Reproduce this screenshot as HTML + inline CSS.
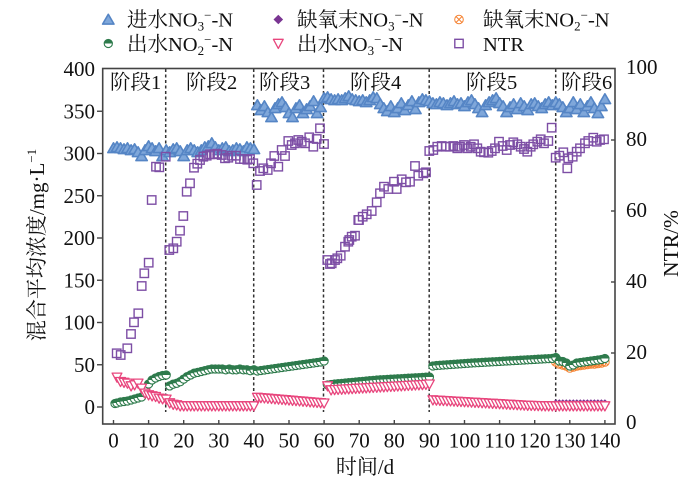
<!DOCTYPE html>
<html><head><meta charset="utf-8"><style>
html,body{margin:0;padding:0;background:#fff;}
svg{display:block;}
text{font-family:"Liberation Serif","Noto Serif CJK SC",serif;fill:#111;}
.s{fill:none;stroke:none;}
</style></head><body>
<svg width="700" height="481" viewBox="0 0 700 481" xmlns="http://www.w3.org/2000/svg">
<defs>
<g id="gT"><path d="M0,-5.2 L5.7,4.6 L-5.7,4.6 Z" fill="#7fa7da" stroke="#5585c5" stroke-width="1.6" stroke-linejoin="round"/></g>
<g id="gG"><circle r="4.1" fill="#fff" stroke="#2e7b4c" stroke-width="1.1"/><path d="M-4.1,0 A4.1,4.1 0 0 1 4.1,0 Z" fill="#2e7b4c"/></g>
<g id="gP"><path d="M-4.9,-4.2 L4.9,-4.2 L0,4.9 Z" fill="#fff" stroke="#e8467d" stroke-width="1.3" stroke-linejoin="round"/></g>
<g id="gS"><rect x="-4.2" y="-4.2" width="8.4" height="8.4" fill="none" stroke="#7d4ea5" stroke-width="1.4"/></g>
<g id="gD"><path d="M0,-4.8 L4.8,0 L0,4.8 L-4.8,0 Z" fill="#7a3592"/></g>
<g id="gO"><circle r="4.3" fill="none" stroke="#f58231" stroke-width="1"/><path d="M-3,-3 L3,3 M-3,3 L3,-3" stroke="#f58231" stroke-width="1"/></g>
<marker id="mT" markerWidth="14" markerHeight="14" refX="7" refY="7" markerUnits="userSpaceOnUse" overflow="visible"><use href="#gT" x="7" y="7"/></marker>
<marker id="mG" markerWidth="14" markerHeight="14" refX="7" refY="7" markerUnits="userSpaceOnUse" overflow="visible"><use href="#gG" x="7" y="7"/></marker>
<marker id="mP" markerWidth="14" markerHeight="14" refX="7" refY="7" markerUnits="userSpaceOnUse" overflow="visible"><use href="#gP" x="7" y="7"/></marker>
<marker id="mS" markerWidth="14" markerHeight="14" refX="7" refY="7" markerUnits="userSpaceOnUse" overflow="visible"><use href="#gS" x="7" y="7"/></marker>
<marker id="mD" markerWidth="14" markerHeight="14" refX="7" refY="7" markerUnits="userSpaceOnUse" overflow="visible"><use href="#gD" x="7" y="7"/></marker>
<marker id="mO" markerWidth="14" markerHeight="14" refX="7" refY="7" markerUnits="userSpaceOnUse" overflow="visible"><use href="#gO" x="7" y="7"/></marker>
</defs>

<!-- Legend -->
<use href="#gT" x="108.3" y="19.5"/>
<text x="127" y="26.5" font-size="20.5">进水NO<tspan font-size="13" dy="4">3</tspan><tspan font-size="13" dy="-11">−</tspan><tspan dy="7">-N</tspan></text>
<use href="#gD" x="278.3" y="19.5"/>
<text x="297" y="26.5" font-size="20.5">缺氧末NO<tspan font-size="13" dy="4">3</tspan><tspan font-size="13" dy="-11">−</tspan><tspan dy="7">-N</tspan></text>
<use href="#gO" x="459" y="19.5"/>
<text x="483" y="26.5" font-size="20.5">缺氧末NO<tspan font-size="13" dy="4">2</tspan><tspan font-size="13" dy="-11">−</tspan><tspan dy="7">-N</tspan></text>
<use href="#gG" x="108.3" y="43.5"/>
<text x="127" y="51" font-size="20.5">出水NO<tspan font-size="13" dy="4">2</tspan><tspan font-size="13" dy="-11">−</tspan><tspan dy="7">-N</tspan></text>
<use href="#gP" x="278.3" y="43.5"/>
<text x="297" y="51" font-size="20.5">出水NO<tspan font-size="13" dy="4">3</tspan><tspan font-size="13" dy="-11">−</tspan><tspan dy="7">-N</tspan></text>
<use href="#gS" x="459" y="43.5"/>
<text x="483" y="51" font-size="20.5">NTR</text>

<!-- Dashed stage lines -->
<g stroke="#333" stroke-width="1.5" stroke-dasharray="3,2.5">
<line x1="165.7" y1="69" x2="165.7" y2="412"/>
<line x1="253.7" y1="69" x2="253.7" y2="412"/>
<line x1="323.5" y1="69" x2="323.5" y2="412"/>
<line x1="429.2" y1="69" x2="429.2" y2="412"/>
<line x1="555.7" y1="69" x2="555.7" y2="412"/>
</g>

<!-- Stage labels -->
<g font-size="20.5">
<text x="110" y="89">阶段1</text>
<text x="186" y="89">阶段2</text>
<text x="259" y="89">阶段3</text>
<text x="350" y="89">阶段4</text>
<text x="466" y="89">阶段5</text>
<text x="561" y="89">阶段6</text>
</g>

<!-- Blue triangles: influent NO3 -->
<polyline class="s" marker-start="url(#mT)" marker-mid="url(#mT)" marker-end="url(#mT)" points="113.5,148 117,147 120.5,148 124,149 127.5,148 131.1,150 134.6,149 138.1,152 141.6,156 145.1,150 148.6,146 152.1,148 155.6,151 159.1,148 162.6,156 166.2,150 169.7,152 173.2,149 176.7,148 180.2,151 183.7,156 187.2,150 190.7,148 194.2,150 197.7,152 201.3,150 204.8,147 208.3,146 211.8,143 215.3,147 218.8,150 222.3,148 225.8,147 229.3,151 232.8,150 236.4,148 239.9,149 243.4,151 246.9,147 250.4,148 253.9,149 257.4,105 260.9,110 264.4,106 267.9,112 271.5,117 275,108 278.5,104 282,102 285.5,107 289,113 292.5,117 296,108 299.5,105 303,113 306.6,109 310.1,106 313.6,101 317.1,113 320.6,107 324.1,98 327.6,97 331.1,99 334.6,100 338.1,99 341.7,100 345.2,98 348.7,96 352.2,99 355.7,100 359.2,101 362.7,100 366.2,102 369.7,100 373.2,97 376.8,98 380.3,104 383.8,108 387.3,111 390.8,106 394.3,112 397.8,108 401.3,103 404.8,110 408.3,105 411.9,101 415.4,109 418.9,102 422.4,99 425.9,100 429.4,101 432.9,103 436.4,104 439.9,102 443.4,103 447,105 450.5,103 454,101 457.5,104 461,103 464.5,106 468,102 471.5,100 475,104 478.5,108 482.1,112 485.6,105 489.1,102 492.6,100 496.1,98 499.6,103 503.1,106 506.6,112 510.1,107 513.6,104 517.2,109 520.7,103 524.2,106 527.7,110 531.2,104 534.7,103 538.2,106 541.7,108 545.2,104 548.7,102 552.3,105 555.8,102 559.3,104 562.8,107 566.3,112 569.8,108 573.3,102 576.8,109 580.3,104 583.8,112 587.4,106 590.9,102 594.4,108 597.9,113 601.4,106 604.9,99"/>

<!-- Orange crossed circles: anoxic-end NO2 -->
<polyline class="s" marker-start="url(#mO)" marker-mid="url(#mO)" marker-end="url(#mO)" points="555.8,362 559.3,364 562.8,365 566.3,366 569.8,368 573.3,367 576.8,366 580.3,365.5 583.8,365 587.4,364.5 590.9,364 594.4,364 597.9,363.5 601.4,363 604.9,362"/>

<!-- Green: effluent NO2 -->
<polyline class="s" marker-start="url(#mG)" marker-mid="url(#mG)" marker-end="url(#mG)" points="115,403.5 117,403 120.5,402 124,401.5 127.5,401 131.1,400 134.6,399 138.1,398 141.6,397 145.1,393 148.6,384 152.1,380 155.6,378 159.1,376.5 162.6,375.5 166.2,375 169.7,385.9 173.2,384.2 176.7,383.3 180.2,381.7 183.7,379.1 187.2,376.6 190.7,374.9 194.2,373.2 197.7,372.4 201.3,371.5 204.8,370.7 208.3,369.8 211.8,369 215.3,369 218.8,369 222.3,369 225.8,369.8 229.3,369 232.8,369.8 236.4,369.8 239.9,369 243.4,369.8 246.9,369.8 250.4,370.7 253.9,369.8 257.4,371 260.9,370.5 264.4,370 267.9,369.5 271.5,369 275,368.5 278.5,368 282,367.5 285.5,367 289,366.5 292.5,366 296,365.5 299.5,365 303,364.5 306.6,364 310.1,363.5 313.6,363 317.1,362.5 320.6,362 324.1,361 327.6,385 331.1,384.5 334.6,384 338.1,383.7 341.7,383.4 345.2,383 348.7,382.7 352.2,382.4 355.7,382 359.2,381.7 362.7,381.4 366.2,381 369.7,380.7 373.2,380.4 376.8,380 380.3,379.8 383.8,379.6 387.3,379.4 390.8,379.2 394.3,379 397.8,378.8 401.3,378.6 404.8,378.4 408.3,378.2 411.9,378 415.4,377.8 418.9,377.6 422.4,377.4 425.9,377.2 429.4,377 432.9,366 436.4,365.5 439.9,365.3 443.4,365 447,364.8 450.5,364.5 454,364.3 457.5,364 461,363.8 464.5,363.5 468,363.3 471.5,363 475,362.8 478.5,362.6 482.1,362.4 485.6,362.2 489.1,362 492.6,361.8 496.1,361.6 499.6,361.4 503.1,361.2 506.6,361 510.1,360.8 513.6,360.6 517.2,360.4 520.7,360.2 524.2,360 527.7,359.8 531.2,359.6 534.7,359.4 538.2,359.2 541.7,359 545.2,358.8 548.7,358.6 552.3,358.4 555.8,357.5 559.3,361 562.8,361.5 566.3,363 569.8,366 573.3,365 576.8,363 580.3,362.5 583.8,362 587.4,361.5 590.9,361 594.4,360.5 597.9,360 601.4,359.5 604.9,358.5"/>

<!-- Purple diamonds: anoxic-end NO3 -->
<polyline class="s" marker-start="url(#mD)" marker-mid="url(#mD)" marker-end="url(#mD)" points="555.8,404 559.3,404 562.8,404 566.3,404 569.8,404 573.3,404 576.8,404 580.3,404 583.8,404 587.4,404 590.9,404 594.4,404 597.9,404 601.4,404 604.9,404"/>

<!-- Pink down triangles: effluent NO3 -->
<polyline class="s" marker-start="url(#mP)" marker-mid="url(#mP)" marker-end="url(#mP)" points="117,377.3 120.5,381.7 124,382.5 127.5,383.3 131.1,386 134.6,385 138.1,383.3 141.6,388.3 145.1,393.3 148.6,395 152.1,396 155.6,396.7 159.1,398.3 162.6,399 166.2,399.3 169.7,403 173.2,404.5 176.7,405 180.2,406 183.7,406 187.2,406 190.7,406 194.2,406 197.7,406 201.3,406 204.8,406 208.3,406 211.8,406 215.3,406 218.8,406 222.3,406 225.8,406 229.3,406 232.8,406 236.4,406 239.9,406 243.4,406 246.9,406 250.4,406 253.9,406 257.4,397.5 260.9,397.8 264.4,398.1 267.9,398.4 271.5,398.7 275,399 278.5,399.3 282,399.6 285.5,399.9 289,400.2 292.5,400.5 296,400.8 299.5,401.1 303,401.4 306.6,401.7 310.1,402 313.6,402.3 317.1,402.6 320.6,402.9 324.1,403.2 327.6,386 331.1,390 334.6,389.8 338.1,389.6 341.7,389.4 345.2,389.2 348.7,389 352.2,388.8 355.7,388.6 359.2,388.4 362.7,388.2 366.2,388 369.7,387.8 373.2,387.6 376.8,387.4 380.3,387.2 383.8,387 387.3,386.8 390.8,386.6 394.3,386.4 397.8,386.2 401.3,386 404.8,385.8 408.3,385.6 411.9,385.4 415.4,385.2 418.9,385 422.4,384.8 425.9,384.6 429.4,384.2 432.9,400 436.4,400.3 439.9,400.5 443.4,400.7 447,400.9 450.5,401.1 454,401.3 457.5,401.5 461,401.7 464.5,401.9 468,402.1 471.5,402.3 475,402.5 478.5,402.7 482.1,402.9 485.6,403.1 489.1,403.3 492.6,403.5 496.1,403.7 499.6,403.9 503.1,404.1 506.6,404.3 510.1,404.5 513.6,404.7 517.2,404.9 520.7,405.1 524.2,405.3 527.7,405.5 531.2,405.6 534.7,405.7 538.2,405.8 541.7,405.9 545.2,406 548.7,406 552.3,406.1 555.8,406.2 559.3,406 562.8,406 566.3,406 569.8,406 573.3,406 576.8,406 580.3,406 583.8,406 587.4,406 590.9,406 594.4,406 597.9,406 601.4,406 604.9,406"/>

<!-- NTR squares -->
<polyline class="s" marker-start="url(#mS)" marker-mid="url(#mS)" marker-end="url(#mS)" points="116.7,353.3 120.7,355 127.3,348.3 131,334 134,322.3 138.3,313.3 141.7,286 144.3,273.3 148.7,262.7 151.7,200 156,166.7 159.3,167.3 165.7,156.7 169.3,250 173.3,248.3 176.7,241.7 180,230.7 183.3,216 186.7,191.7 190,183.3 194,167.7 197.3,163.7 200,160 203.3,156.7 206.7,155.7 210,154.3 214,154.3 217.3,153.7 221.7,155 225,158.3 228.3,157.7 231.7,155.7 236,155.7 240,159 244,159 247.3,159.7 250,159 253.3,163.3 256.7,185 260,171 263.3,168.3 267.7,170 271,163.3 274.3,156 278.3,166.7 281.7,150 285,156 288.3,141 291.7,145 295,143.3 298.3,140 301.7,141.7 305,143.3 309.3,137.3 313.3,146.7 316.7,139 320,128.3 324,144 327.3,260 330,264 331.7,263.3 335,260 337.3,258.3 340.7,255.7 345,246.7 348.3,241.7 349.3,240 351.7,236.7 355,235.7 358.3,220 359,220 362.7,216.7 366.7,214.3 371.7,211 376.7,202.3 380,193.3 384,186.7 388.3,189 394,181.7 396.7,189 401.7,179.3 406,182.3 410,181.7 415,166 418.3,175.7 423.3,173.3 426,172.3 429.3,151 433.3,150 437.3,146.7 441.7,146 446,146.7 450,146.7 453.3,146 457.3,148.3 460,146.7 464,145 467.3,148.3 470.7,146.7 474,144.3 477.3,148.3 480.7,151.7 484,152.3 488.3,152.7 491.7,151 495,148.3 499,141.7 502.7,146 506.7,150 510,145 513.3,142.3 517.3,144.3 520.7,146.7 524,149 527.3,151.7 530.7,146.7 533.3,144.3 537.3,141.7 540.7,139.3 544,143.3 548.3,141 551.7,127.7 555.7,157.7 559.3,155.7 563.3,152.3 567.3,168.3 568.3,158.3 572.7,156.7 576.7,151.7 580,148.3 585,143.3 588.3,141 593.3,137.7 596.7,141.7 600,140 604,139.3"/>

<!-- Frame -->
<rect x="102.7" y="68.5" width="512.3" height="355.5" fill="none" stroke="#444" stroke-width="1.6"/>

<!-- Ticks -->
<g stroke="#444" stroke-width="1.4">
<line x1="97" y1="407" x2="102.7" y2="407"/>
<line x1="97" y1="364.75" x2="102.7" y2="364.75"/>
<line x1="97" y1="322.5" x2="102.7" y2="322.5"/>
<line x1="97" y1="280.25" x2="102.7" y2="280.25"/>
<line x1="97" y1="238" x2="102.7" y2="238"/>
<line x1="97" y1="195.75" x2="102.7" y2="195.75"/>
<line x1="97" y1="153.5" x2="102.7" y2="153.5"/>
<line x1="97" y1="111.25" x2="102.7" y2="111.25"/>
<line x1="611" y1="353" x2="615" y2="353"/>
<line x1="611" y1="282" x2="615" y2="282"/>
<line x1="611" y1="211" x2="615" y2="211"/>
<line x1="611" y1="140" x2="615" y2="140"/>
<line x1="113.5" y1="420" x2="113.5" y2="424"/>
<line x1="148.6" y1="420" x2="148.6" y2="424"/>
<line x1="183.7" y1="420" x2="183.7" y2="424"/>
<line x1="218.8" y1="420" x2="218.8" y2="424"/>
<line x1="253.9" y1="420" x2="253.9" y2="424"/>
<line x1="289" y1="420" x2="289" y2="424"/>
<line x1="324.1" y1="420" x2="324.1" y2="424"/>
<line x1="359.2" y1="420" x2="359.2" y2="424"/>
<line x1="394.3" y1="420" x2="394.3" y2="424"/>
<line x1="429.4" y1="420" x2="429.4" y2="424"/>
<line x1="464.5" y1="420" x2="464.5" y2="424"/>
<line x1="499.6" y1="420" x2="499.6" y2="424"/>
<line x1="534.7" y1="420" x2="534.7" y2="424"/>
<line x1="569.8" y1="420" x2="569.8" y2="424"/>
<line x1="604.9" y1="420" x2="604.9" y2="424"/>
</g>

<!-- Left tick labels -->
<g font-size="21" text-anchor="end">
<text x="95" y="414">0</text>
<text x="95" y="371.75">50</text>
<text x="95" y="329.5">100</text>
<text x="95" y="287.25">150</text>
<text x="95" y="245">200</text>
<text x="95" y="202.75">250</text>
<text x="95" y="160.5">300</text>
<text x="95" y="118.25">350</text>
<text x="95" y="76">400</text>
</g>

<!-- Right tick labels -->
<g font-size="21">
<text x="626" y="429">0</text>
<text x="626" y="359">20</text>
<text x="626" y="288">40</text>
<text x="626" y="217">60</text>
<text x="626" y="146">80</text>
<text x="626" y="74">100</text>
</g>

<!-- Bottom tick labels -->
<g font-size="21" text-anchor="middle">
<text x="113.5" y="447.5">0</text>
<text x="148.6" y="447.5">10</text>
<text x="183.7" y="447.5">20</text>
<text x="218.8" y="447.5">30</text>
<text x="253.9" y="447.5">40</text>
<text x="289" y="447.5">50</text>
<text x="324.1" y="447.5">60</text>
<text x="359.2" y="447.5">70</text>
<text x="394.3" y="447.5">80</text>
<text x="429.4" y="447.5">90</text>
<text x="464.5" y="447.5">100</text>
<text x="499.6" y="447.5">110</text>
<text x="534.7" y="447.5">120</text>
<text x="569.8" y="447.5">130</text>
<text x="604.9" y="447.5">140</text>
</g>

<!-- Axis titles -->
<text x="365" y="474" font-size="21" text-anchor="middle">时间/d</text>
<text transform="translate(44,245) rotate(-90)" font-size="21" text-anchor="middle">混合平均浓度/mg·L<tspan font-size="13" dy="-8">−1</tspan></text>
<text transform="translate(678,243.5) rotate(-90)" font-size="21.5" text-anchor="middle">NTR/%</text>
</svg>
</body></html>
